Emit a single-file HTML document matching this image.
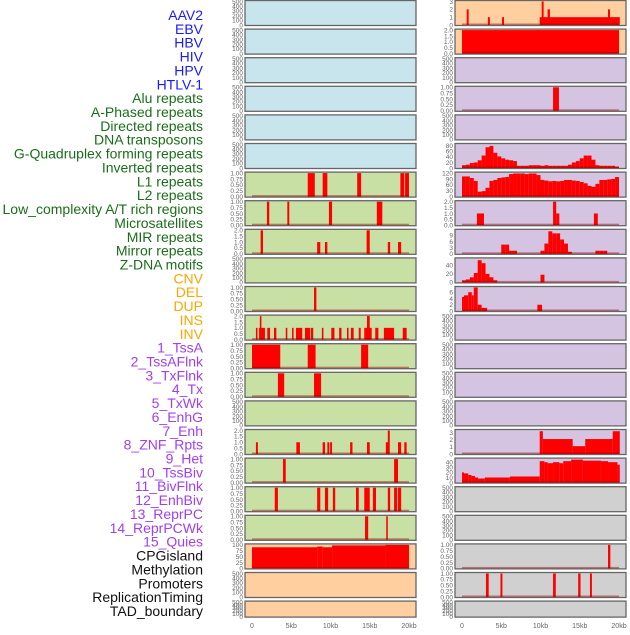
<!DOCTYPE html>
<html><head><meta charset="utf-8">
<style>
body{margin:0;background:#fff;width:630px;height:630px;overflow:hidden;font-family:"Liberation Sans",sans-serif}
svg text{font-family:"Liberation Sans",sans-serif}
</style></head>
<body>
<svg id="chart" width="630" height="630" xmlns="http://www.w3.org/2000/svg"></svg>
<script>
const labels=["AAV2","EBV","HBV","HIV","HPV","HTLV-1","Alu repeats","A-Phased repeats","Directed repeats","DNA transposons","G-Quadruplex forming repeats","Inverted repeats","L1 repeats","L2 repeats","Low_complexity A/T rich regions","Microsatellites","MIR repeats","Mirror repeats","Z-DNA motifs","CNV","DEL","DUP","INS","INV","1_TssA","2_TssAFlnk","3_TxFlnk","4_Tx","5_TxWk","6_EnhG","7_Enh","8_ZNF_Rpts","9_Het","10_TssBiv","11_BivFlnk","12_EnhBiv","13_ReprPC","14_ReprPCWk","15_Quies","CPGisland","Methylation","Promoters","ReplicationTiming","TAD_boundary"];
const labelColors=["#1a1aff","#1a1aff","#1a1aff","#1a1aff","#1a1aff","#1a1aff","#1a6e1a","#1a6e1a","#1a6e1a","#1a6e1a","#1a6e1a","#1a6e1a","#1a6e1a","#1a6e1a","#1a6e1a","#1a6e1a","#1a6e1a","#1a6e1a","#1a6e1a","#ffa500","#ffa500","#ffa500","#ffa500","#ffa500","#a040f0","#a040f0","#a040f0","#a040f0","#a040f0","#a040f0","#a040f0","#a040f0","#a040f0","#a040f0","#a040f0","#a040f0","#a040f0","#a040f0","#a040f0","#111","#111","#111","#111","#111"];
const xTicks=[0,5,10,15,20];
const xTickLabels=["0","5kb","10kb","15kb","20kb"];
const emptyTicks=[0,100,200,300,400,500];
const t1=[0,0.25,0.5,0.75,1.0], t1L=["0.00","0.25","0.50","0.75","1.00"];
const t2=[0,0.5,1,1.5,2], t2L=["0.0","0.5","1.0","1.5","2.0"];
// segments: [startKb, endKb, value]
const L6=[[7.1,8.0,1],[9.0,9.6,1],[13.4,13.9,1],[18.9,19.4,1],[19.5,20.0,1]];
const L7=[[1.9,2.2,1],[4.5,4.75,1],[9.8,10.2,1],[15.9,16.6,1]];
const L8=[[1.1,1.4,2],[8.3,8.7,1],[9.3,9.6,1],[14.6,15.0,2],[17.3,17.6,1],[18.6,19.0,1]];
const L10=[[7.9,8.2,1]];
const L11=[[0.5,0.7,1],[0.9,1.65,1],[1.0,1.2,2],[1.95,2.3,1],[2.8,3.1,1],[4.3,4.5,1],[5.1,5.3,1],[5.6,6.4,1],[6.75,7.4,1],[7.5,7.8,1],[8.9,9.1,1],[10.1,10.5,1],[11.1,11.4,1],[12.1,12.3,1],[12.6,12.95,1],[13.6,13.85,1],[14.3,15.25,1],[14.65,15.0,2],[15.7,16.1,1],[16.8,18.1,1],[19.2,19.7,1]];
const L12=[[0,3.6,1],[7.1,8.1,1],[13.9,14.8,1]];
const L13=[[3.3,4.1,1],[7.9,8.8,1]];
const L15=[[0.5,0.75,1],[5.65,6.1,1],[9.0,9.3,1],[9.6,9.85,1],[9.95,10.2,1],[12.5,12.8,1],[14.65,15.0,1],[17.05,17.4,1],[17.3,17.55,2],[18.6,19.0,1],[19.4,19.7,1]];
const L16=[[3.95,4.3,1],[18.1,18.6,1]];
const L17=[[2.9,3.3,1],[8.3,8.7,1],[9.3,9.7,1],[10.3,10.6,1],[13.25,13.6,1],[14.3,15.0,1],[15.4,15.8,1],[17.3,17.6,1],[18.1,18.5,1],[18.6,19.0,1]];
const L18=[[14.4,14.8,1],[17.1,17.3,1]];
const L19=[[0,8.3,90],[8.3,9.0,93],[9.0,10.2,90],[10.2,17.0,98],[17.0,20.0,100]];
const R0=[[0.6,0.85,2],[3.3,3.55,1],[5.1,5.35,1],[9.9,20.1,1],[10.15,10.4,3],[10.9,11.2,2],[18.6,18.85,2]];
const R1=[[0,20,2]];
const R3=[[11.6,12.35,1]];
const R5vals=[10,12,18,20,28,45,75,80,55,42,35,30,28,25,8,8,8,10,10,10,8,10,8,8,8,8,8,12,20,25,35,45,45,30,10,8,8,8,8,5];
const R6vals=[103,103,95,80,25,28,45,80,85,95,98,100,115,118,118,118,115,118,118,110,85,82,78,80,78,80,85,85,82,80,75,68,55,50,65,85,85,88,90,100];
const R7=[[1.9,2.8,1],[11.6,12.0,2],[12.0,12.4,1],[16.8,17.3,1]];
const R8vals=[0,0,0,0,0,0,0,0,0,0,4.5,4.5,1.5,1.5,0,0,0,0,0,0,1.5,5,11,10,10,7,5,1,0,0,0,0,0,0,1.5,1.5,1.5,0,0,0];
const R9vals=[5,7,12,22,52,45,20,12,5,0,0,0,0,0,0,0,0,0,0,0,18,0,0,0,0,0,0,0,0,0,0,0,0,0,0,0,0,0,0,0];
const R10=[[0,0.25,4.5],[0.25,0.8,5],[0.8,1.25,6],[1.25,1.5,5],[1.5,2.0,7.5],[2.0,2.5,2],[2.5,3.2,1],[9.6,10.2,2]];
const R15=[[9.9,10.3,3.2],[10.3,14.1,2.1],[14.1,15.7,1.1],[15.7,19.2,2.1],[19.2,20.1,3.2]];
const R16=[[0,0.25,20],[0.25,0.8,18],[0.8,1.2,15],[1.2,1.65,13],[1.65,2.05,10],[2.05,2.9,8],[2.9,6.1,10],[6.1,9.9,12],[9.9,10.5,42],[10.5,10.9,40],[10.9,11.6,38],[11.6,12.4,40],[12.4,12.9,38],[12.9,13.9,42],[13.9,15.4,45],[15.4,17.7,43],[17.7,18.6,42],[18.6,19.8,40],[19.8,20.1,35]];
const R19=[[18.6,18.9,1]];
const R20=[[3.05,3.4,1],[4.9,5.15,1],[11.6,11.95,1],[14.8,15.1,1],[16.3,16.55,1]];

const BLUE="#c8e4ec",GREEN="#c8e0a4",ORANGE="#ffcfa0",PURPLE="#d4c4e2",GRAY="#d0d0d0";
function bins(v){return v.map((y,i)=>[i*0.5,(i+1)*0.5,y]);}
const panels=[
 [0,0,BLUE,null],[0,1,BLUE,null],[0,2,BLUE,null],[0,3,BLUE,null],[0,4,BLUE,null],[0,5,BLUE,null],
 [0,6,GREEN,L6,1,t1,t1L],[0,7,GREEN,L7,1,t1,t1L],[0,8,GREEN,L8,2,t2,t2L],[0,9,GREEN,null],
 [0,10,GREEN,L10,1,t1,t1L],[0,11,GREEN,L11,2,t2,t2L],[0,12,GREEN,L12,1,t1,t1L],[0,13,GREEN,L13,1,t1,t1L],
 [0,14,GREEN,null],[0,15,GREEN,L15,2,t2,t2L],[0,16,GREEN,L16,1,t1,t1L],[0,17,GREEN,L17,1,t1,t1L],
 [0,18,GREEN,L18,1,t1,t1L],[0,19,ORANGE,L19,100,[0,25,50,75,100],["0","25","50","75","100"]],[0,20,ORANGE,null],[0,21,ORANGE,null],
 [1,0,ORANGE,R0,3,[0,1,2,3],["0","1","2","3"]],[1,1,ORANGE,R1,2,[0,0.5,1,1.5,2],["0.0","0.5","1.0","1.5","2.0"]],
 [1,2,PURPLE,null],[1,3,PURPLE,R3,1,t1,t1L],[1,4,PURPLE,null],
 [1,5,PURPLE,bins(R5vals),85,[0,20,40,60,80],["0","20","40","60","80"]],
 [1,6,PURPLE,bins(R6vals),120,[0,30,60,90,120],["0","30","60","90","120"]],
 [1,7,PURPLE,R7,2,t2,t2L],
 [1,8,PURPLE,bins(R8vals),11.5,[0,3,6,9],["0","3","6","9"]],
 [1,9,PURPLE,bins(R9vals),55,[0,20,40],["0","20","40"]],
 [1,10,PURPLE,R10,7.5,[0,2,4,6],["0","2","4","6"]],
 [1,11,PURPLE,null],[1,12,PURPLE,null],[1,13,PURPLE,null],[1,14,PURPLE,null],
 [1,15,PURPLE,R15,3.3,[0,1,2,3],["0","1","2","3"]],
 [1,16,PURPLE,R16,46,[0,10,20,30,40],["0","10","20","30","40"]],
 [1,17,GRAY,null],[1,18,GRAY,null],[1,19,GRAY,R19,1,t1,t1L],[1,20,GRAY,R20,1,t1,t1L],[1,21,GRAY,null]
];
const svg=document.getElementById('chart');
const NS="http://www.w3.org/2000/svg";
function mk(tag,attrs,parent){const e=document.createElementNS(NS,tag);for(const k in attrs)e.setAttribute(k,attrs[k]);(parent||svg).appendChild(e);return e;}
// labels
labels.forEach((t,i)=>{
 const e=mk('text',{x:203,y:15+i*13.86+5,'text-anchor':'end','font-size':14,fill:labelColors[i]});
 e.textContent=t;
 
 
});
const colX=[245,455];
const PW=171;
function xs(col,kb){return colX[col]+7+kb*7.85;}
panels.forEach(p=>{
 const [col,row,bg,data,ymax,ticks,tickL]=p;
 const top=row*28.6+0.5, h=row===21?16:25;
 const g=mk('g',{});
 
 
 const r=mk('rect',{x:colX[col],y:top,width:PW,height:h,fill:bg,stroke:'#666','stroke-width':1.3},g);
 
 
 const y0=top+h-0.5, ph=h-1.5;
 const tv=ticks||emptyTicks, tl=tickL||emptyTicks.map(String), ym=ymax||500;
 tv.forEach((v,i)=>{
  const ty=y0-v/ym*ph;
  const t=mk('text',{x:colX[col]-2,y:ty+2.3,'text-anchor':'end','font-size':6.5,fill:'#666'},g);
  t.textContent=tl[i];
  
  
 });
 if(data){
  data.forEach(s=>{
   if(s[2]<=0)return;
   const x1=xs(col,s[0]),x2=xs(col,s[1]);
   const hh=Math.min(s[2],ym)/ym*ph;
   const b=mk('rect',{x:x1,y:y0-hh,width:Math.max(x2-x1,1.5),height:hh,fill:'#ff0000'},g);
   
   
  });
  const bl=mk('rect',{x:xs(col,0),y:y0-1.5,width:20*7.85,height:1.5,fill:'rgba(150,0,0,0.45)'},g);
  
  
 }
});
[0,1].forEach(col=>{
 xTicks.forEach((v,i)=>{
  const t=mk('text',{x:xs(col,v),y:628,'text-anchor':'middle','font-size':7,fill:'#666'});
  t.textContent=xTickLabels[i];
  
  
 });
});
</script>
</body></html>
